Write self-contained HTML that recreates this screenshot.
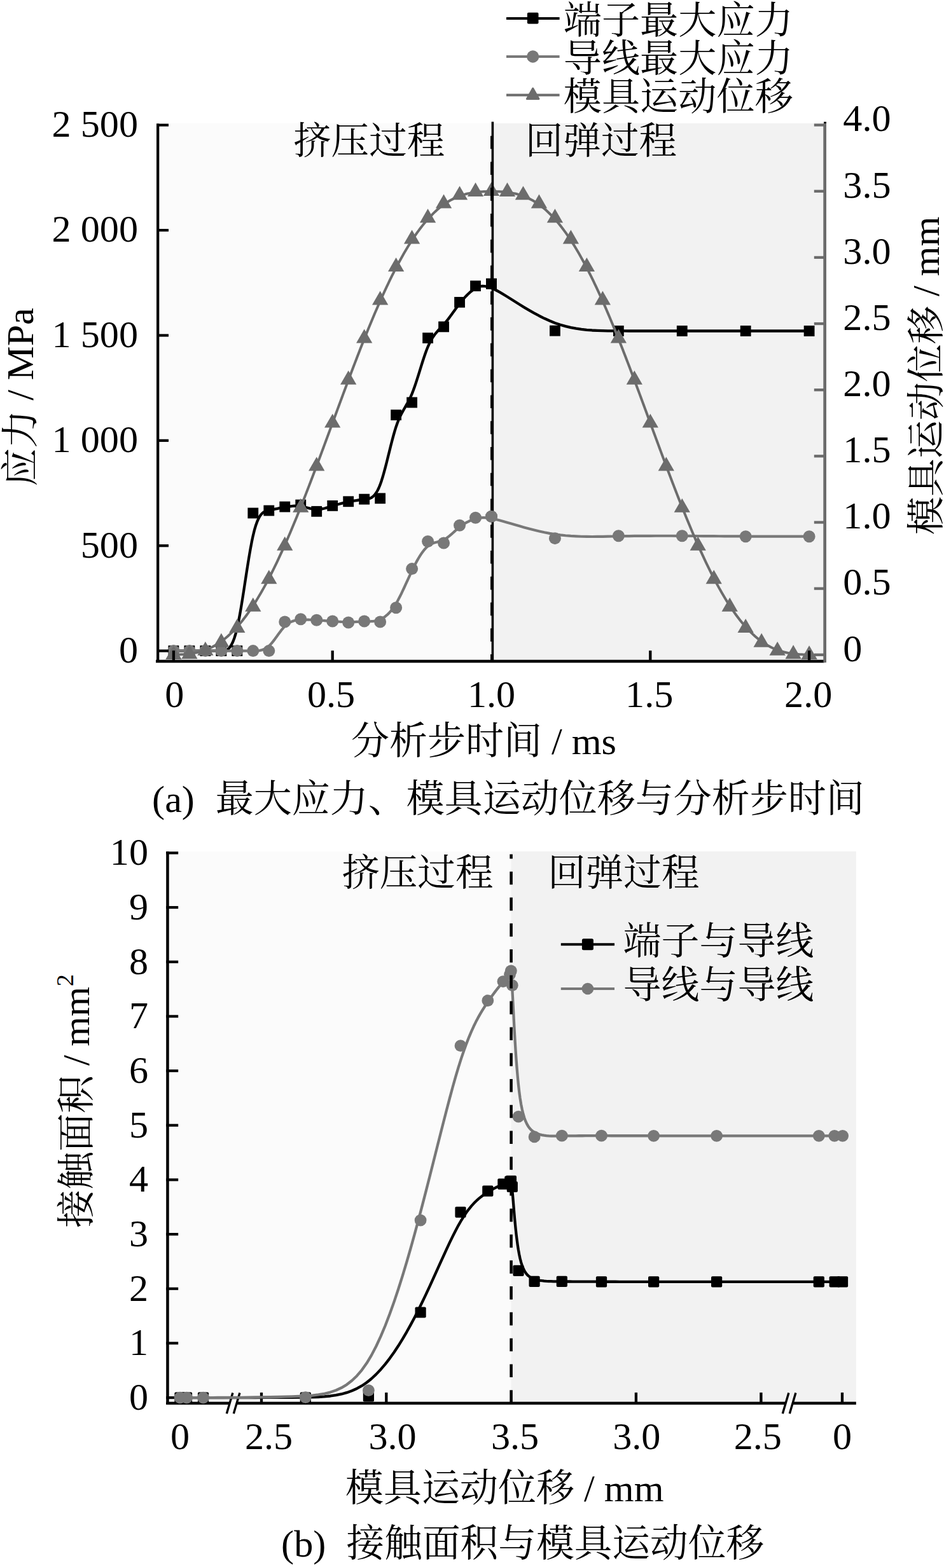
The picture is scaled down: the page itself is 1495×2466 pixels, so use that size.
<!DOCTYPE html>
<html><head><meta charset="utf-8"><title>chart</title>
<style>
html,body{margin:0;padding:0;background:#fff;}
svg{display:block;}
text{font-family:"Liberation Serif","Noto Serif CJK SC",serif;fill:#000;}
</style></head><body>
<svg width="1495" height="2466" viewBox="0 0 1495 2466">
<rect width="1495" height="2466" fill="#fff"/>
<rect x="248" y="193.8" width="526.3" height="846.2" fill="#fbfbfb"/>
<rect x="774.3" y="193.8" width="522.2" height="846.2" fill="#f2f2f2"/>
<path d="M272.9,1023.6 L272.9,1023.6 L272.92,1023.6 L272.97,1023.6 L273.05,1023.6 L273.2,1023.6 L273.42,1023.6 L273.73,1023.6 L274.13,1023.6 L274.66,1023.6 L275.31,1023.6 L276.11,1023.6 L277.06,1023.6 L278.19,1023.6 L279.47,1023.6 L280.9,1023.6 L282.46,1023.6 L284.13,1023.6 L285.91,1023.6 L287.77,1023.6 L289.71,1023.6 L291.7,1023.6 L293.74,1023.6 L295.8,1023.6 L297.88,1023.6 L299.96,1023.6 L302.04,1023.6 L304.12,1023.6 L306.21,1023.6 L308.29,1023.6 L310.37,1023.6 L312.45,1023.6 L314.53,1023.6 L316.62,1023.6 L318.7,1023.6 L320.78,1023.6 L322.86,1023.6 L324.94,1023.6 L327.02,1023.6 L329.11,1023.6 L331.19,1023.6 L333.27,1023.6 L335.35,1023.6 L337.43,1023.6 L339.51,1023.6 L341.59,1023.6 L343.68,1023.6 L345.76,1023.6 L347.84,1023.6 L349.92,1023.58 L352,1023.43 L354.08,1023.04 L356.17,1022.26 L358.25,1020.99 L360.33,1019.09 L362.41,1016.43 L364.49,1012.9 L366.57,1008.37 L368.66,1002.7 L370.74,995.79 L372.82,987.49 L374.9,977.75 L376.98,966.76 L379.06,954.76 L381.15,942 L383.23,928.73 L385.31,915.19 L387.39,901.65 L389.47,888.33 L391.55,875.5 L393.64,863.41 L395.72,852.29 L397.8,842.4 L399.88,833.92 L401.96,826.8 L404.05,820.91 L406.13,816.12 L408.21,812.31 L410.29,809.36 L412.37,807.14 L414.45,805.52 L416.53,804.39 L418.62,803.62 L420.7,803.08 L422.78,802.65 L424.86,802.23 L426.94,801.8 L429.02,801.36 L431.11,800.92 L433.19,800.47 L435.27,800.03 L437.35,799.58 L439.43,799.15 L441.51,798.72 L443.6,798.31 L445.68,797.91 L447.76,797.53 L449.84,797.16 L451.92,796.83 L454,796.53 L456.09,796.27 L458.17,796.05 L460.25,795.88 L462.33,795.77 L464.41,795.72 L466.5,795.73 L468.58,795.83 L470.66,796 L472.74,796.26 L474.82,796.6 L476.9,797.02 L478.98,797.5 L481.07,798.01 L483.15,798.53 L485.23,799.06 L487.31,799.56 L489.39,800.02 L491.48,800.43 L493.56,800.76 L495.64,800.99 L497.72,801.11 L499.8,801.1 L501.88,800.97 L503.97,800.73 L506.05,800.4 L508.13,799.98 L510.21,799.49 L512.29,798.94 L514.37,798.35 L516.46,797.72 L518.54,797.07 L520.62,796.42 L522.7,795.76 L524.78,795.12 L526.86,794.5 L528.95,793.89 L531.03,793.3 L533.11,792.73 L535.19,792.18 L537.27,791.64 L539.35,791.13 L541.44,790.63 L543.52,790.15 L545.6,789.69 L547.68,789.26 L549.76,788.84 L551.84,788.44 L553.93,788.07 L556.01,787.71 L558.09,787.37 L560.17,787.05 L562.25,786.75 L564.33,786.47 L566.41,786.2 L568.5,785.95 L570.58,785.72 L572.66,785.51 L574.74,785.3 L576.82,785.02 L578.9,784.62 L580.99,783.99 L583.07,783.08 L585.15,781.8 L587.23,780.08 L589.31,777.84 L591.39,775.01 L593.48,771.5 L595.56,767.24 L597.64,762.16 L599.72,756.21 L601.8,749.51 L603.88,742.17 L605.97,734.36 L608.05,726.2 L610.13,717.84 L612.21,709.42 L614.29,701.07 L616.37,692.94 L618.46,685.16 L620.54,677.88 L622.62,671.23 L624.7,665.31 L626.78,660.06 L628.86,655.36 L630.95,651.09 L633.03,647.15 L635.11,643.43 L637.19,639.81 L639.27,636.18 L641.36,632.44 L643.44,628.46 L645.52,624.13 L647.6,619.35 L649.68,614.04 L651.76,608.25 L653.85,602.09 L655.93,595.65 L658.01,589.02 L660.09,582.31 L662.17,575.6 L664.25,569 L666.33,562.59 L668.42,556.48 L670.5,550.76 L672.58,545.52 L674.66,540.84 L676.74,536.68 L678.82,532.98 L680.91,529.68 L682.99,526.72 L685.07,524.04 L687.15,521.58 L689.23,519.27 L691.31,517.07 L693.4,514.89 L695.48,512.7 L697.56,510.42 L699.64,508.01 L701.72,505.47 L703.8,502.83 L705.89,500.1 L707.97,497.31 L710.05,494.47 L712.13,491.6 L714.21,488.72 L716.29,485.85 L718.38,483.02 L720.46,480.23 L722.54,477.52 L724.62,474.89 L726.7,472.35 L728.78,469.92 L730.87,467.59 L732.95,465.38 L735.03,463.28 L737.11,461.3 L739.19,459.45 L741.27,457.73 L743.36,456.15 L745.44,454.71 L747.52,453.42 L749.61,452.29 L751.74,451.35 L753.96,450.62 L756.31,450.15 L758.83,449.95 L761.57,450.07 L764.57,450.53 L767.87,451.37 L771.52,452.63 L775.56,454.32 L780.04,456.49 L784.99,459.16 L790.45,462.35 L796.38,465.99 L802.75,469.99 L809.51,474.27 L816.61,478.73 L824.02,483.3 L831.69,487.88 L839.58,492.39 L847.64,496.73 L855.82,500.82 L864.1,504.58 L872.42,507.92 L880.75,510.76 L889.07,513.14 L897.4,515.09 L905.73,516.66 L914.05,517.88 L922.38,518.81 L930.71,519.48 L939.03,519.93 L947.36,520.22 L955.69,520.37 L964.01,520.44 L972.34,520.46 L980.67,520.47 L988.99,520.48 L997.32,520.49 L1005.65,520.5 L1013.97,520.5 L1022.3,520.51 L1030.63,520.51 L1038.95,520.51 L1047.28,520.51 L1055.61,520.51 L1063.93,520.51 L1072.26,520.51 L1080.59,520.51 L1088.91,520.51 L1097.24,520.51 L1105.57,520.51 L1113.89,520.51 L1122.22,520.51 L1130.55,520.51 L1138.87,520.51 L1147.2,520.51 L1155.53,520.51 L1163.85,520.51 L1172.18,520.51 L1180.5,520.51 L1188.76,520.51 L1196.9,520.51 L1204.87,520.51 L1212.61,520.51 L1220.06,520.51 L1227.16,520.51 L1233.86,520.51 L1240.09,520.51 L1245.81,520.51 L1250.95,520.51 L1255.45,520.51 L1259.27,520.51 L1262.46,520.51 L1265.07,520.51 L1267.17,520.51 L1268.79,520.51 L1270.02,520.51 L1270.9,520.51 L1271.48,520.51 L1271.84,520.51 L1272.02,520.51 L1272.09,520.51 L1272.1,520.51" fill="none" stroke="#000" stroke-width="4.3" stroke-linejoin="round"/>
<rect x="264.5" y="1015.2" width="16.8" height="16.8" fill="#000"/>
<rect x="289.48" y="1015.2" width="16.8" height="16.8" fill="#000"/>
<rect x="314.46" y="1015.2" width="16.8" height="16.8" fill="#000"/>
<rect x="339.44" y="1015.2" width="16.8" height="16.8" fill="#000"/>
<rect x="364.42" y="1015.2" width="16.8" height="16.8" fill="#000"/>
<rect x="389.4" y="798.55" width="16.8" height="16.8" fill="#000"/>
<rect x="414.38" y="794.58" width="16.8" height="16.8" fill="#000"/>
<rect x="439.36" y="788.63" width="16.8" height="16.8" fill="#000"/>
<rect x="464.34" y="785.65" width="16.8" height="16.8" fill="#000"/>
<rect x="489.32" y="795.91" width="16.8" height="16.8" fill="#000"/>
<rect x="514.3" y="786.98" width="16.8" height="16.8" fill="#000"/>
<rect x="539.28" y="780.36" width="16.8" height="16.8" fill="#000"/>
<rect x="564.26" y="776.72" width="16.8" height="16.8" fill="#000"/>
<rect x="589.24" y="775.4" width="16.8" height="16.8" fill="#000"/>
<rect x="614.22" y="644.25" width="16.8" height="16.8" fill="#000"/>
<rect x="639.2" y="624.57" width="16.8" height="16.8" fill="#000"/>
<rect x="664.18" y="523.16" width="16.8" height="16.8" fill="#000"/>
<rect x="689.16" y="505.5" width="16.8" height="16.8" fill="#000"/>
<rect x="714.14" y="466.97" width="16.8" height="16.8" fill="#000"/>
<rect x="739.12" y="441.33" width="16.8" height="16.8" fill="#000"/>
<rect x="764.1" y="437.86" width="16.8" height="16.8" fill="#000"/>
<rect x="864.02" y="511.78" width="16.8" height="16.8" fill="#000"/>
<rect x="963.94" y="512.11" width="16.8" height="16.8" fill="#000"/>
<rect x="1063.86" y="512.11" width="16.8" height="16.8" fill="#000"/>
<rect x="1163.78" y="512.11" width="16.8" height="16.8" fill="#000"/>
<rect x="1263.7" y="512.11" width="16.8" height="16.8" fill="#000"/>
<path d="M272.9,1023.6 L272.9,1023.6 L272.92,1023.6 L272.97,1023.6 L273.05,1023.6 L273.2,1023.6 L273.42,1023.6 L273.73,1023.6 L274.13,1023.6 L274.66,1023.6 L275.31,1023.6 L276.11,1023.6 L277.06,1023.6 L278.19,1023.6 L279.47,1023.6 L280.9,1023.6 L282.46,1023.6 L284.13,1023.6 L285.91,1023.6 L287.77,1023.6 L289.71,1023.6 L291.7,1023.6 L293.74,1023.6 L295.8,1023.6 L297.88,1023.6 L299.96,1023.6 L302.04,1023.6 L304.12,1023.6 L306.21,1023.6 L308.29,1023.6 L310.37,1023.6 L312.45,1023.6 L314.53,1023.6 L316.62,1023.6 L318.7,1023.6 L320.78,1023.6 L322.86,1023.6 L324.94,1023.6 L327.02,1023.6 L329.11,1023.6 L331.19,1023.6 L333.27,1023.6 L335.35,1023.6 L337.43,1023.6 L339.51,1023.6 L341.59,1023.6 L343.68,1023.6 L345.76,1023.6 L347.84,1023.6 L349.92,1023.6 L352,1023.6 L354.08,1023.6 L356.17,1023.6 L358.25,1023.6 L360.33,1023.6 L362.41,1023.6 L364.49,1023.6 L366.57,1023.6 L368.66,1023.6 L370.74,1023.6 L372.82,1023.6 L374.9,1023.6 L376.98,1023.6 L379.06,1023.6 L381.15,1023.6 L383.23,1023.6 L385.31,1023.6 L387.39,1023.6 L389.47,1023.6 L391.55,1023.6 L393.64,1023.6 L395.72,1023.6 L397.8,1023.6 L399.88,1023.6 L401.96,1023.56 L404.05,1023.48 L406.13,1023.32 L408.21,1023.05 L410.29,1022.65 L412.37,1022.09 L414.45,1021.35 L416.53,1020.39 L418.62,1019.2 L420.7,1017.74 L422.78,1015.99 L424.86,1013.94 L426.94,1011.62 L429.02,1009.09 L431.11,1006.39 L433.19,1003.57 L435.27,1000.69 L437.35,997.8 L439.43,994.94 L441.51,992.17 L443.6,989.53 L445.68,987.08 L447.76,984.87 L449.84,982.94 L451.92,981.27 L454,979.85 L456.09,978.66 L458.17,977.67 L460.25,976.87 L462.33,976.23 L464.41,975.73 L466.5,975.36 L468.58,975.08 L470.66,974.89 L472.74,974.76 L474.82,974.67 L476.9,974.61 L478.98,974.59 L481.07,974.6 L483.15,974.63 L485.23,974.69 L487.31,974.76 L489.39,974.86 L491.48,974.96 L493.56,975.08 L495.64,975.21 L497.72,975.34 L499.8,975.47 L501.88,975.6 L503.97,975.73 L506.05,975.87 L508.13,976.01 L510.21,976.15 L512.29,976.29 L514.37,976.43 L516.46,976.57 L518.54,976.72 L520.62,976.87 L522.7,977.02 L524.78,977.17 L526.86,977.32 L528.95,977.47 L531.03,977.62 L533.11,977.75 L535.19,977.88 L537.27,977.99 L539.35,978.09 L541.44,978.17 L543.52,978.23 L545.6,978.27 L547.68,978.29 L549.76,978.27 L551.84,978.24 L553.93,978.18 L556.01,978.11 L558.09,978.03 L560.17,977.93 L562.25,977.84 L564.33,977.75 L566.41,977.66 L568.5,977.58 L570.58,977.51 L572.66,977.46 L574.74,977.43 L576.82,977.4 L578.9,977.36 L580.99,977.3 L583.07,977.2 L585.15,977.04 L587.23,976.81 L589.31,976.5 L591.39,976.09 L593.48,975.56 L595.56,974.9 L597.64,974.1 L599.72,973.13 L601.8,972 L603.88,970.69 L605.97,969.18 L608.05,967.48 L610.13,965.58 L612.21,963.46 L614.29,961.11 L616.37,958.53 L618.46,955.71 L620.54,952.63 L622.62,949.29 L624.7,945.69 L626.78,941.85 L628.86,937.8 L630.95,933.58 L633.03,929.22 L635.11,924.76 L637.19,920.22 L639.27,915.65 L641.36,911.06 L643.44,906.51 L645.52,902.01 L647.6,897.6 L649.68,893.32 L651.76,889.17 L653.85,885.19 L655.93,881.38 L658.01,877.75 L660.09,874.33 L662.17,871.13 L664.25,868.17 L666.33,865.47 L668.42,863.03 L670.5,860.88 L672.58,859.02 L674.66,857.48 L676.74,856.21 L678.82,855.17 L680.91,854.32 L682.99,853.6 L685.07,852.99 L687.15,852.43 L689.23,851.88 L691.31,851.29 L693.4,850.63 L695.48,849.85 L697.56,848.9 L699.64,847.75 L701.72,846.42 L703.8,844.94 L705.89,843.32 L707.97,841.6 L710.05,839.81 L712.13,837.96 L714.21,836.09 L716.29,834.22 L718.38,832.38 L720.46,830.6 L722.54,828.89 L724.62,827.29 L726.7,825.8 L728.78,824.4 L730.87,823.11 L732.95,821.91 L735.03,820.8 L737.11,819.78 L739.19,818.85 L741.27,818 L743.36,817.23 L745.44,816.53 L747.52,815.91 L749.61,815.36 L751.74,814.9 L753.96,814.54 L756.31,814.29 L758.83,814.17 L761.57,814.2 L764.57,814.4 L767.87,814.76 L771.52,815.32 L775.56,816.09 L780.04,817.08 L784.99,818.31 L790.45,819.78 L796.38,821.46 L802.75,823.3 L809.51,825.27 L816.61,827.32 L824.02,829.4 L831.69,831.48 L839.58,833.51 L847.64,835.44 L855.82,837.24 L864.1,838.85 L872.42,840.25 L880.75,841.39 L889.07,842.28 L897.4,842.96 L905.73,843.45 L914.05,843.77 L922.38,843.94 L930.71,844 L939.03,843.96 L947.36,843.85 L955.69,843.69 L964.01,843.51 L972.34,843.34 L980.67,843.18 L988.99,843.06 L997.32,842.96 L1005.65,842.88 L1013.97,842.82 L1022.3,842.78 L1030.63,842.75 L1038.95,842.75 L1047.28,842.75 L1055.61,842.77 L1063.93,842.8 L1072.26,842.84 L1080.59,842.88 L1088.91,842.93 L1097.24,842.99 L1105.57,843.05 L1113.89,843.11 L1122.22,843.17 L1130.55,843.23 L1138.87,843.29 L1147.2,843.35 L1155.53,843.41 L1163.85,843.46 L1172.18,843.5 L1180.5,843.54 L1188.76,843.57 L1196.9,843.6 L1204.87,843.62 L1212.61,843.63 L1220.06,843.65 L1227.16,843.65 L1233.86,843.66 L1240.09,843.66 L1245.81,843.67 L1250.95,843.67 L1255.45,843.67 L1259.27,843.67 L1262.46,843.67 L1265.07,843.67 L1267.17,843.67 L1268.79,843.67 L1270.02,843.67 L1270.9,843.67 L1271.48,843.67 L1271.84,843.67 L1272.02,843.67 L1272.09,843.67 L1272.1,843.67" fill="none" stroke="#787878" stroke-width="4.2" stroke-linejoin="round"/>
<circle cx="272.9" cy="1023.6" r="9.5" fill="#787878"/>
<circle cx="297.88" cy="1023.6" r="9.5" fill="#787878"/>
<circle cx="322.86" cy="1023.6" r="9.5" fill="#787878"/>
<circle cx="347.84" cy="1023.6" r="9.5" fill="#787878"/>
<circle cx="372.82" cy="1023.6" r="9.5" fill="#787878"/>
<circle cx="397.8" cy="1023.6" r="9.5" fill="#787878"/>
<circle cx="422.78" cy="1023.6" r="9.5" fill="#787878"/>
<circle cx="447.76" cy="977.96" r="9.5" fill="#787878"/>
<circle cx="472.74" cy="973.82" r="9.5" fill="#787878"/>
<circle cx="497.72" cy="975.31" r="9.5" fill="#787878"/>
<circle cx="522.7" cy="976.96" r="9.5" fill="#787878"/>
<circle cx="547.68" cy="978.95" r="9.5" fill="#787878"/>
<circle cx="572.66" cy="976.96" r="9.5" fill="#787878"/>
<circle cx="597.64" cy="977.96" r="9.5" fill="#787878"/>
<circle cx="622.62" cy="955.79" r="9.5" fill="#787878"/>
<circle cx="647.6" cy="894.6" r="9.5" fill="#787878"/>
<circle cx="672.58" cy="851.41" r="9.5" fill="#787878"/>
<circle cx="697.56" cy="853.92" r="9.5" fill="#787878"/>
<circle cx="722.54" cy="826.3" r="9.5" fill="#787878"/>
<circle cx="747.52" cy="814.23" r="9.5" fill="#787878"/>
<circle cx="772.5" cy="812.24" r="9.5" fill="#787878"/>
<circle cx="872.42" cy="846.64" r="9.5" fill="#787878"/>
<circle cx="972.34" cy="842.67" r="9.5" fill="#787878"/>
<circle cx="1072.26" cy="842.67" r="9.5" fill="#787878"/>
<circle cx="1172.18" cy="843.67" r="9.5" fill="#787878"/>
<circle cx="1272.1" cy="843.67" r="9.5" fill="#787878"/>
<path d="M272.9,1029.8 L272.9,1029.8 L272.92,1029.8 L272.97,1029.8 L273.05,1029.79 L273.2,1029.79 L273.42,1029.78 L273.73,1029.77 L274.13,1029.76 L274.66,1029.74 L275.31,1029.72 L276.11,1029.69 L277.06,1029.66 L278.19,1029.62 L279.47,1029.57 L280.9,1029.52 L282.46,1029.45 L284.13,1029.37 L285.91,1029.27 L287.77,1029.15 L289.71,1029.01 L291.7,1028.84 L293.74,1028.66 L295.8,1028.44 L297.88,1028.2 L299.96,1027.92 L302.04,1027.61 L304.12,1027.27 L306.21,1026.88 L308.29,1026.46 L310.37,1026 L312.45,1025.5 L314.53,1024.95 L316.62,1024.35 L318.7,1023.71 L320.78,1023.01 L322.86,1022.27 L324.94,1021.46 L327.02,1020.61 L329.11,1019.7 L331.19,1018.73 L333.27,1017.7 L335.35,1016.62 L337.43,1015.47 L339.51,1014.26 L341.59,1012.99 L343.68,1011.65 L345.76,1010.25 L347.84,1008.79 L349.92,1007.25 L352,1005.65 L354.08,1003.99 L356.17,1002.25 L358.25,1000.44 L360.33,998.57 L362.41,996.62 L364.49,994.61 L366.57,992.52 L368.66,990.37 L370.74,988.14 L372.82,985.84 L374.9,983.47 L376.98,981.02 L379.06,978.5 L381.15,975.92 L383.23,973.26 L385.31,970.52 L387.39,967.72 L389.47,964.85 L391.55,961.9 L393.64,958.88 L395.72,955.79 L397.8,952.63 L399.88,949.4 L401.96,946.11 L404.05,942.74 L406.13,939.3 L408.21,935.79 L410.29,932.22 L412.37,928.58 L414.45,924.87 L416.53,921.09 L418.62,917.26 L420.7,913.35 L422.78,909.38 L424.86,905.35 L426.94,901.26 L429.02,897.11 L431.11,892.89 L433.19,888.62 L435.27,884.28 L437.35,879.89 L439.43,875.45 L441.51,870.94 L443.6,866.39 L445.68,861.78 L447.76,857.11 L449.84,852.4 L451.92,847.63 L454,842.82 L456.09,837.96 L458.17,833.05 L460.25,828.1 L462.33,823.1 L464.41,818.06 L466.5,812.98 L468.58,807.86 L470.66,802.7 L472.74,797.5 L474.82,792.27 L476.9,787 L478.98,781.7 L481.07,776.36 L483.15,771 L485.23,765.6 L487.31,760.18 L489.39,754.74 L491.48,749.27 L493.56,743.77 L495.64,738.26 L497.72,732.72 L499.8,727.17 L501.88,721.59 L503.97,716.01 L506.05,710.4 L508.13,704.79 L510.21,699.17 L512.29,693.53 L514.37,687.89 L516.46,682.24 L518.54,676.59 L520.62,670.93 L522.7,665.27 L524.78,659.62 L526.86,653.96 L528.95,648.31 L531.03,642.66 L533.11,637.02 L535.19,631.38 L537.27,625.76 L539.35,620.15 L541.44,614.54 L543.52,608.96 L545.6,603.38 L547.68,597.83 L549.76,592.29 L551.84,586.78 L553.93,581.28 L556.01,575.81 L558.09,570.37 L560.17,564.95 L562.25,559.55 L564.33,554.19 L566.42,548.85 L568.5,543.55 L570.58,538.28 L572.66,533.05 L574.74,527.85 L576.82,522.69 L578.9,517.57 L580.99,512.49 L583.07,507.45 L585.15,502.45 L587.23,497.5 L589.31,492.59 L591.4,487.73 L593.48,482.92 L595.56,478.15 L597.64,473.44 L599.72,468.77 L601.8,464.16 L603.88,459.61 L605.97,455.1 L608.05,450.66 L610.13,446.27 L612.21,441.93 L614.29,437.66 L616.37,433.44 L618.46,429.29 L620.54,425.2 L622.62,421.17 L624.7,417.2 L626.78,413.29 L628.87,409.46 L630.95,405.68 L633.03,401.97 L635.11,398.33 L637.19,394.76 L639.27,391.25 L641.36,387.81 L643.44,384.44 L645.52,381.15 L647.6,377.92 L649.68,374.76 L651.76,371.67 L653.85,368.65 L655.93,365.7 L658.01,362.83 L660.09,360.03 L662.17,357.29 L664.25,354.63 L666.34,352.05 L668.42,349.53 L670.5,347.08 L672.58,344.71 L674.66,342.41 L676.74,340.18 L678.83,338.03 L680.91,335.94 L682.99,333.93 L685.07,331.98 L687.15,330.11 L689.23,328.3 L691.32,326.56 L693.4,324.9 L695.48,323.3 L697.56,321.76 L699.64,320.3 L701.72,318.9 L703.81,317.56 L705.89,316.29 L707.97,315.08 L710.05,313.93 L712.13,312.85 L714.21,311.82 L716.3,310.85 L718.38,309.94 L720.46,309.09 L722.54,308.28 L724.62,307.54 L726.7,306.84 L728.78,306.2 L730.87,305.6 L732.95,305.05 L735.03,304.55 L737.11,304.09 L739.19,303.67 L741.27,303.28 L743.36,302.94 L745.44,302.63 L747.52,302.35 L749.6,302.11 L751.68,301.89 L753.76,301.71 L755.85,301.55 L757.93,301.41 L760.01,301.3 L762.09,301.21 L764.17,301.14 L766.25,301.09 L768.34,301.06 L770.42,301.04 L772.5,301.03 L774.58,301.04 L776.66,301.06 L778.75,301.09 L780.83,301.14 L782.91,301.21 L784.99,301.3 L787.07,301.41 L789.15,301.55 L791.24,301.71 L793.32,301.89 L795.4,302.11 L797.48,302.35 L799.56,302.63 L801.64,302.94 L803.73,303.28 L805.81,303.67 L807.89,304.09 L809.97,304.55 L812.05,305.05 L814.13,305.6 L816.22,306.2 L818.3,306.84 L820.38,307.54 L822.46,308.28 L824.54,309.09 L826.62,309.94 L828.71,310.85 L830.79,311.82 L832.87,312.85 L834.95,313.93 L837.03,315.08 L839.11,316.29 L841.2,317.56 L843.28,318.9 L845.36,320.3 L847.44,321.76 L849.52,323.3 L851.6,324.9 L853.69,326.56 L855.77,328.3 L857.85,330.11 L859.93,331.98 L862.01,333.93 L864.09,335.94 L866.18,338.03 L868.26,340.18 L870.34,342.41 L872.42,344.71 L874.5,347.08 L876.58,349.53 L878.67,352.05 L880.75,354.63 L882.83,357.29 L884.91,360.03 L886.99,362.83 L889.07,365.7 L891.16,368.65 L893.24,371.67 L895.32,374.76 L897.4,377.92 L899.48,381.15 L901.56,384.44 L903.64,387.81 L905.73,391.25 L907.81,394.76 L909.89,398.33 L911.97,401.97 L914.05,405.68 L916.13,409.46 L918.22,413.29 L920.3,417.2 L922.38,421.17 L924.46,425.2 L926.54,429.29 L928.62,433.44 L930.71,437.66 L932.79,441.93 L934.87,446.27 L936.95,450.66 L939.03,455.1 L941.12,459.61 L943.2,464.16 L945.28,468.77 L947.36,473.44 L949.44,478.15 L951.52,482.92 L953.61,487.73 L955.69,492.59 L957.77,497.5 L959.85,502.45 L961.93,507.45 L964.01,512.49 L966.1,517.57 L968.18,522.69 L970.26,527.85 L972.34,533.05 L974.42,538.28 L976.5,543.55 L978.59,548.85 L980.67,554.19 L982.75,559.55 L984.83,564.95 L986.91,570.37 L988.99,575.81 L991.07,581.28 L993.16,586.78 L995.24,592.29 L997.32,597.83 L999.4,603.38 L1001.48,608.96 L1003.56,614.54 L1005.65,620.15 L1007.73,625.76 L1009.81,631.38 L1011.89,637.02 L1013.97,642.66 L1016.06,648.31 L1018.14,653.96 L1020.22,659.62 L1022.3,665.27 L1024.38,670.93 L1026.46,676.59 L1028.55,682.24 L1030.63,687.89 L1032.71,693.53 L1034.79,699.17 L1036.87,704.79 L1038.95,710.4 L1041.04,716.01 L1043.12,721.59 L1045.2,727.17 L1047.28,732.72 L1049.36,738.26 L1051.44,743.77 L1053.53,749.27 L1055.61,754.74 L1057.69,760.18 L1059.77,765.6 L1061.85,771 L1063.93,776.36 L1066.02,781.7 L1068.1,787 L1070.18,792.27 L1072.26,797.5 L1074.34,802.7 L1076.42,807.86 L1078.51,812.98 L1080.59,818.06 L1082.67,823.1 L1084.75,828.1 L1086.83,833.05 L1088.91,837.96 L1091,842.82 L1093.08,847.63 L1095.16,852.4 L1097.24,857.11 L1099.32,861.78 L1101.4,866.39 L1103.49,870.94 L1105.57,875.45 L1107.65,879.89 L1109.73,884.28 L1111.81,888.62 L1113.89,892.89 L1115.98,897.11 L1118.06,901.26 L1120.14,905.35 L1122.22,909.38 L1124.3,913.35 L1126.38,917.26 L1128.47,921.09 L1130.55,924.87 L1132.63,928.58 L1134.71,932.22 L1136.79,935.79 L1138.87,939.3 L1140.95,942.74 L1143.04,946.11 L1145.12,949.4 L1147.2,952.63 L1149.28,955.79 L1151.36,958.88 L1153.45,961.9 L1155.53,964.85 L1157.61,967.72 L1159.69,970.52 L1161.77,973.26 L1163.85,975.92 L1165.93,978.5 L1168.02,981.02 L1170.1,983.47 L1172.18,985.84 L1174.26,988.14 L1176.34,990.37 L1178.43,992.52 L1180.51,994.61 L1182.59,996.62 L1184.67,998.57 L1186.75,1000.44 L1188.83,1002.25 L1190.92,1003.99 L1193,1005.65 L1195.08,1007.25 L1197.16,1008.79 L1199.24,1010.25 L1201.32,1011.65 L1203.41,1012.99 L1205.49,1014.26 L1207.57,1015.47 L1209.65,1016.62 L1211.73,1017.7 L1213.81,1018.73 L1215.89,1019.7 L1217.98,1020.61 L1220.06,1021.46 L1222.14,1022.27 L1224.22,1023.01 L1226.3,1023.71 L1228.38,1024.35 L1230.47,1024.95 L1232.55,1025.5 L1234.63,1026 L1236.71,1026.46 L1238.79,1026.88 L1240.88,1027.27 L1242.96,1027.61 L1245.04,1027.92 L1247.12,1028.2 L1249.2,1028.44 L1251.26,1028.66 L1253.3,1028.84 L1255.29,1029.01 L1257.23,1029.15 L1259.09,1029.27 L1260.87,1029.37 L1262.54,1029.45 L1264.1,1029.52 L1265.53,1029.57 L1266.81,1029.62 L1267.94,1029.66 L1268.89,1029.69 L1269.69,1029.72 L1270.34,1029.74 L1270.87,1029.76 L1271.27,1029.77 L1271.58,1029.78 L1271.8,1029.79 L1271.95,1029.79 L1272.03,1029.8 L1272.08,1029.8 L1272.1,1029.8 L1272.1,1029.8" fill="none" stroke="#6c6c6c" stroke-width="4.0" stroke-linejoin="round"/>
<path d="M272.9,1015.19 L285.55,1037.1 L260.25,1037.1Z" fill="#6c6c6c"/>
<path d="M297.88,1014.35 L310.53,1036.26 L285.23,1036.26Z" fill="#6c6c6c"/>
<path d="M322.86,1008.95 L335.51,1030.86 L310.21,1030.86Z" fill="#6c6c6c"/>
<path d="M347.84,995.79 L360.49,1017.7 L335.19,1017.7Z" fill="#6c6c6c"/>
<path d="M372.82,972.97 L385.47,994.88 L360.17,994.88Z" fill="#6c6c6c"/>
<path d="M397.8,939.72 L410.45,961.64 L385.15,961.64Z" fill="#6c6c6c"/>
<path d="M422.78,896.3 L435.43,918.21 L410.13,918.21Z" fill="#6c6c6c"/>
<path d="M447.76,843.74 L460.41,865.65 L435.11,865.65Z" fill="#6c6c6c"/>
<path d="M472.74,783.76 L485.39,805.67 L460.09,805.67Z" fill="#6c6c6c"/>
<path d="M497.72,718.56 L510.37,740.47 L485.07,740.47Z" fill="#6c6c6c"/>
<path d="M522.7,650.67 L535.35,672.58 L510.05,672.58Z" fill="#6c6c6c"/>
<path d="M547.68,582.77 L560.33,604.68 L535.03,604.68Z" fill="#6c6c6c"/>
<path d="M572.66,517.57 L585.31,539.48 L560.01,539.48Z" fill="#6c6c6c"/>
<path d="M597.64,457.59 L610.29,479.5 L584.99,479.5Z" fill="#6c6c6c"/>
<path d="M622.62,405.04 L635.27,426.95 L609.97,426.95Z" fill="#6c6c6c"/>
<path d="M647.6,361.61 L660.25,383.52 L634.95,383.52Z" fill="#6c6c6c"/>
<path d="M672.58,328.37 L685.23,350.28 L659.93,350.28Z" fill="#6c6c6c"/>
<path d="M697.56,305.54 L710.21,327.45 L684.91,327.45Z" fill="#6c6c6c"/>
<path d="M722.54,292.38 L735.19,314.29 L709.89,314.29Z" fill="#6c6c6c"/>
<path d="M747.52,286.99 L760.17,308.9 L734.87,308.9Z" fill="#6c6c6c"/>
<path d="M772.5,286.14 L785.15,308.05 L759.85,308.05Z" fill="#6c6c6c"/>
<path d="M797.48,286.99 L810.13,308.9 L784.83,308.9Z" fill="#6c6c6c"/>
<path d="M822.46,292.38 L835.11,314.29 L809.81,314.29Z" fill="#6c6c6c"/>
<path d="M847.44,305.54 L860.09,327.45 L834.79,327.45Z" fill="#6c6c6c"/>
<path d="M872.42,328.37 L885.07,350.28 L859.77,350.28Z" fill="#6c6c6c"/>
<path d="M897.4,361.61 L910.05,383.52 L884.75,383.52Z" fill="#6c6c6c"/>
<path d="M922.38,405.04 L935.03,426.95 L909.73,426.95Z" fill="#6c6c6c"/>
<path d="M947.36,457.59 L960.01,479.5 L934.71,479.5Z" fill="#6c6c6c"/>
<path d="M972.34,517.57 L984.99,539.48 L959.69,539.48Z" fill="#6c6c6c"/>
<path d="M997.32,582.77 L1009.97,604.68 L984.67,604.68Z" fill="#6c6c6c"/>
<path d="M1022.3,650.67 L1034.95,672.58 L1009.65,672.58Z" fill="#6c6c6c"/>
<path d="M1047.28,718.56 L1059.93,740.47 L1034.63,740.47Z" fill="#6c6c6c"/>
<path d="M1072.26,783.76 L1084.91,805.67 L1059.61,805.67Z" fill="#6c6c6c"/>
<path d="M1097.24,843.74 L1109.89,865.65 L1084.59,865.65Z" fill="#6c6c6c"/>
<path d="M1122.22,896.3 L1134.87,918.21 L1109.57,918.21Z" fill="#6c6c6c"/>
<path d="M1147.2,939.72 L1159.85,961.64 L1134.55,961.64Z" fill="#6c6c6c"/>
<path d="M1172.18,972.97 L1184.83,994.88 L1159.53,994.88Z" fill="#6c6c6c"/>
<path d="M1197.16,995.79 L1209.81,1017.7 L1184.51,1017.7Z" fill="#6c6c6c"/>
<path d="M1222.14,1008.95 L1234.79,1030.86 L1209.49,1030.86Z" fill="#6c6c6c"/>
<path d="M1247.12,1014.35 L1259.77,1036.26 L1234.47,1036.26Z" fill="#6c6c6c"/>
<path d="M1272.1,1015.19 L1284.75,1037.1 L1259.45,1037.1Z" fill="#6c6c6c"/>
<line x1="772.7" y1="196" x2="772.7" y2="1038" stroke="#000" stroke-width="3.4" stroke-dasharray="20.6 20.17" stroke-dashoffset="23.07"/>
<line x1="774.4" y1="191.6" x2="774.4" y2="1038" stroke="#000" stroke-width="3.6"/>
<rect x="764.1" y="437.86" width="16.8" height="16.8" fill="#000"/>
<circle cx="772.5" cy="812.24" r="9.5" fill="#787878"/>
<rect x="1295" y="191.6" width="4" height="3" fill="#000"/>
<rect x="246" y="194.5" width="4.3" height="847.5" fill="#000"/>
<rect x="245" y="1037.7" width="1051" height="4.6" fill="#000"/>
<rect x="1294.3" y="194.5" width="4.7" height="847.5" fill="#6b6b6b"/>
<rect x="246" y="1021.5" width="19" height="4.2" fill="#000"/>
<rect x="246" y="856.12" width="19" height="4.2" fill="#000"/>
<rect x="246" y="690.74" width="19" height="4.2" fill="#000"/>
<rect x="246" y="525.36" width="19" height="4.2" fill="#000"/>
<rect x="246" y="359.98" width="19" height="4.2" fill="#000"/>
<rect x="246" y="194.6" width="19" height="4.2" fill="#000"/>
<rect x="1279.8" y="1027.65" width="16" height="4.3" fill="#6b6b6b"/>
<rect x="1279.8" y="923.5" width="16" height="4.3" fill="#6b6b6b"/>
<rect x="1279.8" y="819.35" width="16" height="4.3" fill="#6b6b6b"/>
<rect x="1279.8" y="715.2" width="16" height="4.3" fill="#6b6b6b"/>
<rect x="1279.8" y="611.05" width="16" height="4.3" fill="#6b6b6b"/>
<rect x="1279.8" y="506.9" width="16" height="4.3" fill="#6b6b6b"/>
<rect x="1279.8" y="402.75" width="16" height="4.3" fill="#6b6b6b"/>
<rect x="1279.8" y="298.6" width="16" height="4.3" fill="#6b6b6b"/>
<rect x="1279.8" y="194.45" width="16" height="4.3" fill="#6b6b6b"/>
<rect x="270.75" y="1023.2" width="4.3" height="16" fill="#000"/>
<rect x="520.55" y="1023.2" width="4.3" height="16" fill="#000"/>
<rect x="1020.15" y="1023.2" width="4.3" height="16" fill="#000"/>
<rect x="1269.95" y="1023.2" width="4.3" height="16" fill="#000"/>
<g class="t">
<text x="217" y="1042" font-size="60.2" text-anchor="end" xml:space="preserve">0</text>
<text x="217" y="876.62" font-size="60.2" text-anchor="end" xml:space="preserve">500</text>
<text x="217" y="711.24" font-size="60.2" text-anchor="end" xml:space="preserve">1 000</text>
<text x="217" y="545.86" font-size="60.2" text-anchor="end" xml:space="preserve">1 500</text>
<text x="217" y="380.48" font-size="60.2" text-anchor="end" xml:space="preserve">2 000</text>
<text x="217" y="215.1" font-size="60.2" text-anchor="end" xml:space="preserve">2 500</text>
<text x="1325.3" y="1039.6" font-size="60.2" xml:space="preserve">0</text>
<text x="1325.3" y="935.45" font-size="60.2" xml:space="preserve">0.5</text>
<text x="1325.3" y="831.3" font-size="60.2" xml:space="preserve">1.0</text>
<text x="1325.3" y="727.15" font-size="60.2" xml:space="preserve">1.5</text>
<text x="1325.3" y="623" font-size="60.2" xml:space="preserve">2.0</text>
<text x="1325.3" y="518.85" font-size="60.2" xml:space="preserve">2.5</text>
<text x="1325.3" y="414.7" font-size="60.2" xml:space="preserve">3.0</text>
<text x="1325.3" y="310.55" font-size="60.2" xml:space="preserve">3.5</text>
<text x="1325.3" y="206.4" font-size="60.2" xml:space="preserve">4.0</text>
<text x="274.2" y="1111.8" font-size="60.2" text-anchor="middle">0</text>
<text x="520.5" y="1111.8" font-size="60.2" text-anchor="middle">0.5</text>
<text x="772.5" y="1111.8" font-size="60.2" text-anchor="middle">1.0</text>
<text x="1020.7" y="1111.8" font-size="60.2" text-anchor="middle">1.5</text>
<text x="1270.7" y="1111.8" font-size="60.2" text-anchor="middle">2.0</text>
</g>
<line x1="796" y1="28.9" x2="879.6" y2="28.9" stroke="#000" stroke-width="4"/>
<line x1="796" y1="89" x2="879.6" y2="89" stroke="#787878" stroke-width="4"/>
<line x1="796" y1="149.4" x2="879.6" y2="149.4" stroke="#6c6c6c" stroke-width="4"/>
<rect x="828.85" y="19.75" width="17.7" height="17.7" rx="2" fill="#000"/>
<circle cx="837.7" cy="89" r="9.65" fill="#787878"/>
<path d="M837.7,139 L847,155.4 L828.4,155.4Z" fill="#6c6c6c" stroke="#6c6c6c" stroke-width="3" stroke-linejoin="round"/>
<g aria-label="端子最大应力">
<text x="885.7" y="52.5" font-size="60.2">端子最大应力</text>
</g>
<g aria-label="导线最大应力">
<text x="885.7" y="112.9" font-size="60.2">导线最大应力</text>
</g>
<g aria-label="模具运动位移">
<text x="885.7" y="173.3" font-size="60.2">模具运动位移</text>
</g>
<g aria-label="挤压过程">
<text x="461" y="242" font-size="59.6">挤压过程</text>
</g>
<g aria-label="回弹过程">
<text x="825.8" y="242" font-size="59.6">回弹过程</text>
</g>
<g class="t">
<g aria-label="分析步时间 / ms">
<text x="551.96" y="1185.5" font-size="60">分析步时间</text>
<text x="851.96" y="1185.5" font-size="60.2" xml:space="preserve"> / ms</text>
</g>
<text x="239.1" y="1276.5" font-size="60.2" xml:space="preserve">(a)</text>
<g aria-label="最大应力、模具运动位移与分析步时间">
<text x="338.8" y="1276.5" font-size="60">最大应力、模具运动位移与分析步时间</text>
</g>
<g transform="translate(51.6,764.7) rotate(-90)"><g aria-label="应力 / MPa">
<text x="0" y="1.2" font-size="60">应力</text>
<text x="120" y="0" font-size="60.2" xml:space="preserve"> / MPa</text>
</g></g>
<g transform="translate(1476.1,841) rotate(-90)"><g aria-label="模具运动位移 / mm">
<text x="0" y="1.2" font-size="60">模具运动位移</text>
<text x="360" y="0" font-size="60.2" xml:space="preserve"> / mm</text>
</g></g>
</g>
<rect x="263" y="1339" width="540.6" height="868" fill="#fbfbfb"/>
<rect x="803.6" y="1339" width="542.1999999999999" height="868" fill="#f2f2f2"/>
<rect x="261.2" y="1339.2" width="4.5" height="869.8" fill="#000"/>
<rect x="261.2" y="2204.6" width="1084.6" height="4.5" fill="#000"/>
<rect x="261.2" y="2196" width="19" height="4.2" fill="#000"/>
<rect x="261.2" y="2110.33" width="19" height="4.2" fill="#000"/>
<rect x="261.2" y="2024.66" width="19" height="4.2" fill="#000"/>
<rect x="261.2" y="1938.99" width="19" height="4.2" fill="#000"/>
<rect x="261.2" y="1853.32" width="19" height="4.2" fill="#000"/>
<rect x="261.2" y="1767.65" width="19" height="4.2" fill="#000"/>
<rect x="261.2" y="1681.98" width="19" height="4.2" fill="#000"/>
<rect x="261.2" y="1596.31" width="19" height="4.2" fill="#000"/>
<rect x="261.2" y="1510.64" width="19" height="4.2" fill="#000"/>
<rect x="261.2" y="1424.97" width="19" height="4.2" fill="#000"/>
<rect x="261.2" y="1339.3" width="19" height="4.2" fill="#000"/>
<rect x="408.85" y="2190.1" width="4.3" height="16" fill="#000"/>
<rect x="605.15" y="2190.1" width="4.3" height="16" fill="#000"/>
<rect x="997.75" y="2190.1" width="4.3" height="16" fill="#000"/>
<rect x="1194.25" y="2190.1" width="4.3" height="16" fill="#000"/>
<rect x="1321.85" y="2190.1" width="4.3" height="16" fill="#000"/>
<path d="M362.1,2203 L373.6,2203 L371.6,2211 L360.1,2211Z" fill="#fff"/><line x1="365.90000000000003" y1="2190.6" x2="356.3" y2="2223.2" stroke="#000" stroke-width="3.4"/><line x1="376.90000000000003" y1="2190.6" x2="367.3" y2="2223.2" stroke="#000" stroke-width="3.4"/>
<path d="M1236.1,2203 L1247.6,2203 L1245.6,2211 L1234.1,2211Z" fill="#fff"/><line x1="1239.8999999999999" y1="2190.6" x2="1230.3" y2="2223.2" stroke="#000" stroke-width="3.4"/><line x1="1250.8999999999999" y1="2190.6" x2="1241.3" y2="2223.2" stroke="#000" stroke-width="3.4"/>
<path d="M283,2198.1 L283,2198.1 L283.01,2198.1 L283.03,2198.1 L283.06,2198.1 L283.13,2198.1 L283.22,2198.1 L283.35,2198.1 L283.52,2198.1 L283.74,2198.1 L284.01,2198.1 L284.35,2198.1 L284.75,2198.1 L285.22,2198.1 L285.77,2198.1 L286.4,2198.1 L287.11,2198.1 L287.91,2198.1 L288.79,2198.1 L289.76,2198.1 L290.83,2198.1 L291.99,2198.1 L293.25,2198.1 L294.62,2198.1 L296.08,2198.1 L297.67,2198.1 L299.43,2198.1 L301.44,2198.1 L303.76,2198.1 L306.47,2198.1 L309.63,2198.1 L313.31,2198.1 L317.59,2198.1 L322.52,2198.09 L328.18,2198.09 L334.64,2198.09 L341.97,2198.08 L350.2,2198.08 L359.25,2198.07 L369.02,2198.06 L379.38,2198.05 L390.22,2198.03 L401.42,2198.01 L412.88,2197.97 L424.49,2197.93 L436.11,2197.88 L447.65,2197.82 L458.99,2197.75 L470.02,2197.67 L480.64,2197.56 L490.85,2197.36 L500.69,2197 L510.18,2196.4 L519.34,2195.49 L528.2,2194.2 L536.79,2192.46 L545.13,2190.18 L553.24,2187.29 L561.16,2183.73 L568.9,2179.41 L576.5,2174.27 L583.97,2168.24 L591.32,2161.38 L598.55,2153.73 L605.66,2145.36 L612.64,2136.34 L619.5,2126.71 L626.23,2116.54 L632.83,2105.89 L639.31,2094.82 L645.66,2083.39 L651.88,2071.67 L657.97,2059.7 L663.93,2047.56 L669.75,2035.32 L675.45,2023.09 L681.01,2010.93 L686.44,1998.94 L691.74,1987.21 L696.9,1975.82 L701.92,1964.86 L706.81,1954.42 L711.56,1944.58 L716.18,1935.43 L720.65,1927.07 L724.98,1919.54 L729.18,1912.82 L733.24,1906.84 L737.16,1901.56 L740.94,1896.9 L744.59,1892.81 L748.11,1889.23 L751.49,1886.09 L754.73,1883.35 L757.85,1880.94 L760.83,1878.81 L763.68,1876.88 L766.41,1875.12 L769,1873.5 L771.48,1872.02 L773.83,1870.67 L776.06,1869.43 L778.19,1868.31 L780.2,1867.28 L782.1,1866.35 L783.9,1865.5 L785.6,1864.73 L787.2,1864.02 L788.7,1863.37 L790.11,1862.77 L791.44,1862.21 L792.67,1861.7 L793.82,1861.23 L794.89,1860.8 L795.88,1860.41 L796.79,1860.06 L797.63,1859.73 L798.39,1859.44 L799.08,1859.18 L799.7,1858.94 L800.25,1858.73 L800.74,1858.55 L801.17,1858.38 L801.55,1858.25 L801.88,1858.15 L802.16,1858.09 L802.41,1858.07 L802.63,1858.1 L802.82,1858.18 L803,1858.3 L803.16,1858.49 L803.3,1858.74 L803.45,1859.05 L803.6,1859.44 L803.75,1859.97 L803.92,1860.69 L804.1,1861.68 L804.3,1863 L804.52,1864.71 L804.77,1866.89 L805.05,1869.59 L805.37,1872.89 L805.74,1876.84 L806.14,1881.51 L806.6,1886.97 L807.11,1893.25 L807.68,1900.24 L808.31,1907.81 L809.01,1915.82 L809.79,1924.14 L810.63,1932.61 L811.56,1941.12 L812.58,1949.52 L813.68,1957.67 L814.87,1965.43 L816.17,1972.67 L817.57,1979.25 L819.07,1985.06 L820.68,1990.14 L822.4,1994.53 L824.24,1998.29 L826.19,2001.48 L828.25,2004.15 L830.43,2006.37 L832.72,2008.18 L835.14,2009.66 L837.67,2010.84 L840.33,2011.79 L843.12,2012.57 L846.03,2013.22 L849.06,2013.76 L852.22,2014.21 L855.51,2014.56 L858.93,2014.84 L862.47,2015.05 L866.15,2015.21 L869.95,2015.31 L873.88,2015.38 L877.95,2015.43 L882.14,2015.45 L886.47,2015.47 L890.92,2015.48 L895.51,2015.5 L900.24,2015.53 L905.09,2015.55 L910.09,2015.58 L915.21,2015.6 L920.47,2015.62 L925.87,2015.65 L931.4,2015.67 L937.07,2015.7 L942.87,2015.72 L948.82,2015.73 L954.9,2015.75 L961.12,2015.76 L967.47,2015.77 L973.95,2015.78 L980.57,2015.79 L987.32,2015.79 L994.19,2015.8 L1001.19,2015.8 L1008.32,2015.8 L1015.56,2015.8 L1022.93,2015.8 L1030.42,2015.8 L1038.03,2015.8 L1045.78,2015.8 L1053.7,2015.8 L1061.82,2015.8 L1070.15,2015.8 L1078.74,2015.8 L1087.59,2015.8 L1096.75,2015.8 L1106.23,2015.8 L1116.06,2015.8 L1126.27,2015.8 L1136.88,2015.8 L1147.9,2015.8 L1159.23,2015.8 L1170.76,2015.8 L1182.38,2015.8 L1193.96,2015.8 L1205.41,2015.8 L1216.59,2015.8 L1227.41,2015.8 L1237.74,2015.8 L1247.47,2015.8 L1256.48,2015.8 L1264.67,2015.8 L1271.94,2015.8 L1278.34,2015.8 L1283.94,2015.8 L1288.82,2015.8 L1293.03,2015.8 L1296.66,2015.8 L1299.77,2015.8 L1302.44,2015.8 L1304.74,2015.8 L1306.73,2015.8 L1308.49,2015.8 L1310.1,2015.8 L1311.61,2015.8 L1313.03,2015.8 L1314.36,2015.8 L1315.6,2015.8 L1316.76,2015.8 L1317.83,2015.8 L1318.82,2015.8 L1319.71,2015.8 L1320.53,2015.8 L1321.25,2015.8 L1321.89,2015.8 L1322.45,2015.8 L1322.92,2015.8 L1323.31,2015.8 L1323.64,2015.8 L1323.89,2015.8 L1324.09,2015.8 L1324.24,2015.8 L1324.35,2015.8 L1324.42,2015.8 L1324.47,2015.8 L1324.49,2015.8 L1324.5,2015.8 L1324.5,2015.8" fill="none" stroke="#000" stroke-width="4.3" stroke-linejoin="round"/>
<rect x="274.4" y="2189.5" width="17.2" height="17.2" rx="2" fill="#000"/>
<rect x="284.9" y="2189.5" width="17.2" height="17.2" rx="2" fill="#000"/>
<rect x="310.9" y="2189.5" width="17.2" height="17.2" rx="2" fill="#000"/>
<rect x="471.7" y="2189.4" width="17.2" height="17.2" rx="2" fill="#000"/>
<rect x="570.8" y="2187.3" width="17.2" height="17.2" rx="2" fill="#000"/>
<rect x="652.5" y="2055.4" width="17.2" height="17.2" rx="2" fill="#000"/>
<rect x="715.4" y="1897.7" width="17.2" height="17.2" rx="2" fill="#000"/>
<rect x="758.2" y="1864.6" width="17.2" height="17.2" rx="2" fill="#000"/>
<rect x="782.3" y="1853.6" width="17.2" height="17.2" rx="2" fill="#000"/>
<rect x="793.2" y="1849.6" width="17.2" height="17.2" rx="2" fill="#000"/>
<rect x="794.8" y="1848.8" width="17.2" height="17.2" rx="2" fill="#000"/>
<rect x="796.7" y="1857.9" width="17.2" height="17.2" rx="2" fill="#000"/>
<rect x="806.4" y="1989.8" width="17.2" height="17.2" rx="2" fill="#000"/>
<rect x="831.5" y="2006.8" width="17.2" height="17.2" rx="2" fill="#000"/>
<rect x="874.7" y="2006.8" width="17.2" height="17.2" rx="2" fill="#000"/>
<rect x="936.9" y="2007.2" width="17.2" height="17.2" rx="2" fill="#000"/>
<rect x="1019" y="2007.2" width="17.2" height="17.2" rx="2" fill="#000"/>
<rect x="1118" y="2007.2" width="17.2" height="17.2" rx="2" fill="#000"/>
<rect x="1278.7" y="2007.2" width="17.2" height="17.2" rx="2" fill="#000"/>
<rect x="1303.6" y="2007.2" width="17.2" height="17.2" rx="2" fill="#000"/>
<rect x="1315.9" y="2007.2" width="17.2" height="17.2" rx="2" fill="#000"/>
<path d="M283,2198.1 L283,2198.1 L283.01,2198.1 L283.03,2198.1 L283.06,2198.1 L283.13,2198.1 L283.22,2198.1 L283.35,2198.1 L283.52,2198.1 L283.74,2198.1 L284.01,2198.1 L284.35,2198.1 L284.75,2198.1 L285.22,2198.1 L285.77,2198.1 L286.4,2198.1 L287.11,2198.1 L287.91,2198.1 L288.79,2198.1 L289.76,2198.1 L290.83,2198.1 L291.99,2198.1 L293.25,2198.1 L294.62,2198.1 L296.08,2198.1 L297.67,2198.1 L299.43,2198.1 L301.44,2198.1 L303.76,2198.1 L306.47,2198.09 L309.63,2198.09 L313.31,2198.08 L317.59,2198.08 L322.52,2198.06 L328.18,2198.05 L334.64,2198.04 L341.97,2198.02 L350.2,2197.99 L359.25,2197.96 L369.02,2197.91 L379.38,2197.84 L390.22,2197.75 L401.42,2197.62 L412.88,2197.45 L424.49,2197.25 L436.11,2196.99 L447.65,2196.67 L458.99,2196.29 L470.02,2195.85 L480.64,2195.31 L490.85,2194.56 L500.69,2193.44 L510.18,2191.83 L519.34,2189.58 L528.2,2186.54 L536.79,2182.57 L545.13,2177.54 L553.24,2171.29 L561.16,2163.69 L568.9,2154.59 L576.5,2143.85 L583.97,2131.38 L591.32,2117.27 L598.55,2101.67 L605.66,2084.72 L612.64,2066.57 L619.5,2047.36 L626.23,2027.24 L632.83,2006.34 L639.31,1984.82 L645.66,1962.82 L651.88,1940.48 L657.97,1917.95 L663.93,1895.37 L669.75,1872.86 L675.45,1850.54 L681.01,1828.55 L686.44,1806.99 L691.74,1785.99 L696.9,1765.68 L701.92,1746.17 L706.81,1727.58 L711.56,1710.05 L716.18,1693.68 L720.65,1678.6 L724.98,1664.9 L729.18,1652.52 L733.24,1641.36 L737.16,1631.33 L740.94,1622.34 L744.59,1614.29 L748.11,1607.09 L751.49,1600.64 L754.73,1594.86 L757.85,1589.64 L760.83,1584.89 L763.68,1580.52 L766.41,1576.44 L769,1572.64 L771.48,1569.1 L773.83,1565.8 L776.06,1562.74 L778.18,1559.9 L780.19,1557.27 L782.08,1554.83 L783.88,1552.57 L785.57,1550.49 L787.16,1548.56 L788.65,1546.78 L790.05,1545.14 L791.36,1543.61 L792.58,1542.21 L793.71,1540.91 L794.76,1539.71 L795.74,1538.61 L796.63,1537.59 L797.45,1536.65 L798.2,1535.77 L798.87,1534.96 L799.49,1534.2 L800.03,1533.48 L800.52,1532.81 L800.95,1532.18 L801.33,1531.62 L801.67,1531.14 L801.96,1530.74 L802.22,1530.45 L802.45,1530.28 L802.66,1530.24 L802.84,1530.34 L803.01,1530.59 L803.17,1531.02 L803.33,1531.63 L803.49,1532.46 L803.66,1533.56 L803.83,1535.05 L804.02,1537 L804.23,1539.51 L804.46,1542.67 L804.72,1546.56 L805.01,1551.29 L805.34,1556.92 L805.71,1563.57 L806.12,1571.31 L806.58,1580.23 L807.1,1590.39 L807.67,1601.61 L808.31,1613.69 L809.01,1626.43 L809.78,1639.62 L810.63,1653.04 L811.56,1666.49 L812.57,1679.77 L813.68,1692.67 L814.87,1704.98 L816.17,1716.48 L817.57,1726.98 L819.07,1736.32 L820.68,1744.52 L822.4,1751.68 L824.24,1757.87 L826.19,1763.17 L828.25,1767.66 L830.43,1771.44 L832.72,1774.57 L835.14,1777.14 L837.67,1779.23 L840.33,1780.93 L843.12,1782.32 L846.03,1783.46 L849.06,1784.39 L852.22,1785.12 L855.51,1785.69 L858.93,1786.1 L862.47,1786.39 L866.15,1786.56 L869.95,1786.64 L873.88,1786.66 L877.95,1786.62 L882.14,1786.56 L886.47,1786.48 L890.92,1786.42 L895.51,1786.36 L900.24,1786.32 L905.09,1786.28 L910.09,1786.26 L915.21,1786.24 L920.47,1786.22 L925.87,1786.22 L931.4,1786.21 L937.07,1786.21 L942.87,1786.21 L948.82,1786.22 L954.9,1786.22 L961.12,1786.23 L967.47,1786.23 L973.95,1786.24 L980.57,1786.24 L987.32,1786.25 L994.19,1786.26 L1001.19,1786.26 L1008.32,1786.27 L1015.56,1786.27 L1022.93,1786.28 L1030.42,1786.28 L1038.03,1786.29 L1045.78,1786.29 L1053.7,1786.29 L1061.82,1786.3 L1070.15,1786.3 L1078.74,1786.3 L1087.59,1786.3 L1096.75,1786.3 L1106.23,1786.3 L1116.06,1786.3 L1126.27,1786.3 L1136.88,1786.3 L1147.9,1786.3 L1159.23,1786.3 L1170.76,1786.3 L1182.37,1786.3 L1193.96,1786.3 L1205.4,1786.3 L1216.58,1786.3 L1227.39,1786.3 L1237.71,1786.3 L1247.43,1786.3 L1256.43,1786.3 L1264.6,1786.3 L1271.86,1786.3 L1278.24,1786.3 L1283.82,1786.3 L1288.67,1786.3 L1292.86,1786.3 L1296.47,1786.3 L1299.56,1786.3 L1302.21,1786.3 L1304.5,1786.3 L1306.48,1786.3 L1308.24,1786.3 L1309.85,1786.3 L1311.36,1786.3 L1312.79,1786.3 L1314.14,1786.3 L1315.41,1786.3 L1316.59,1786.3 L1317.69,1786.3 L1318.7,1786.3 L1319.63,1786.3 L1320.47,1786.3 L1321.22,1786.3 L1321.89,1786.3 L1322.47,1786.3 L1322.96,1786.3 L1323.37,1786.3 L1323.7,1786.3 L1323.97,1786.3 L1324.18,1786.3 L1324.33,1786.3 L1324.45,1786.3 L1324.52,1786.3 L1324.57,1786.3 L1324.59,1786.3 L1324.6,1786.3 L1324.6,1786.3" fill="none" stroke="#787878" stroke-width="4.3" stroke-linejoin="round"/>
<circle cx="283" cy="2198.1" r="9.4" fill="#787878"/>
<circle cx="293.5" cy="2198.1" r="9.4" fill="#787878"/>
<circle cx="319.5" cy="2198.1" r="9.4" fill="#787878"/>
<circle cx="480.3" cy="2197.6" r="9.4" fill="#787878"/>
<circle cx="579.4" cy="2186.6" r="9.4" fill="#787878"/>
<circle cx="661.1" cy="1919.1" r="9.4" fill="#787878"/>
<circle cx="724" cy="1644.7" r="9.4" fill="#787878"/>
<circle cx="766.8" cy="1573.7" r="9.4" fill="#787878"/>
<circle cx="790.9" cy="1543.6" r="9.4" fill="#787878"/>
<circle cx="801.5" cy="1532.6" r="9.4" fill="#787878"/>
<circle cx="803.3" cy="1526.9" r="9.4" fill="#787878"/>
<circle cx="805.3" cy="1549.6" r="9.4" fill="#787878"/>
<circle cx="815" cy="1756.1" r="9.4" fill="#787878"/>
<circle cx="840.1" cy="1787.9" r="9.4" fill="#787878"/>
<circle cx="883.3" cy="1786.2" r="9.4" fill="#787878"/>
<circle cx="945.5" cy="1786.2" r="9.4" fill="#787878"/>
<circle cx="1027.6" cy="1786.3" r="9.4" fill="#787878"/>
<circle cx="1126.6" cy="1786.3" r="9.4" fill="#787878"/>
<circle cx="1287.3" cy="1786.3" r="9.4" fill="#787878"/>
<circle cx="1311.8" cy="1786.3" r="9.4" fill="#787878"/>
<circle cx="1324.6" cy="1786.3" r="9.4" fill="#787878"/>
<line x1="803.6" y1="1343.6" x2="803.6" y2="2205" stroke="#000" stroke-width="4.5" stroke-dasharray="20.6 20.17" stroke-dashoffset="13.60"/>
<g class="t">
<text x="233" y="2216.9" font-size="60.2" text-anchor="end">0</text>
<text x="233" y="2131.23" font-size="60.2" text-anchor="end">1</text>
<text x="233" y="2045.56" font-size="60.2" text-anchor="end">2</text>
<text x="233" y="1959.89" font-size="60.2" text-anchor="end">3</text>
<text x="233" y="1874.22" font-size="60.2" text-anchor="end">4</text>
<text x="233" y="1788.55" font-size="60.2" text-anchor="end">5</text>
<text x="233" y="1702.88" font-size="60.2" text-anchor="end">6</text>
<text x="233" y="1617.21" font-size="60.2" text-anchor="end">7</text>
<text x="233" y="1531.54" font-size="60.2" text-anchor="end">8</text>
<text x="233" y="1445.87" font-size="60.2" text-anchor="end">9</text>
<text x="233" y="1360.2" font-size="60.2" text-anchor="end">10</text>
<text x="283" y="2279" font-size="60.2" text-anchor="middle">0</text>
<text x="422.5" y="2279" font-size="60.2" text-anchor="middle">2.5</text>
<text x="617" y="2279" font-size="60.2" text-anchor="middle">3.0</text>
<text x="809.5" y="2279" font-size="60.2" text-anchor="middle">3.5</text>
<text x="1000.8" y="2279" font-size="60.2" text-anchor="middle">3.0</text>
<text x="1191.3" y="2279" font-size="60.2" text-anchor="middle">2.5</text>
<text x="1324" y="2279" font-size="60.2" text-anchor="middle">0</text>
</g>
<line x1="881.8" y1="1485.3" x2="966" y2="1485.3" stroke="#000" stroke-width="4"/>
<line x1="881.8" y1="1555" x2="966" y2="1555" stroke="#787878" stroke-width="4"/>
<rect x="914.9" y="1476.3" width="18" height="18" rx="2.5" fill="#000"/>
<circle cx="923.9" cy="1555" r="9.3" fill="#787878"/>
<g aria-label="端子与导线">
<text x="979.5" y="1501.2" font-size="60">端子与导线</text>
</g>
<g aria-label="导线与导线">
<text x="979.5" y="1570" font-size="60">导线与导线</text>
</g>
<g aria-label="挤压过程">
<text x="537.2" y="1392.5" font-size="59.6">挤压过程</text>
</g>
<g aria-label="回弹过程">
<text x="861.2" y="1392.5" font-size="59.6">回弹过程</text>
</g>
<g class="t">
<g aria-label="模具运动位移 / mm">
<text x="543.06" y="2360.6" font-size="60">模具运动位移</text>
<text x="903.06" y="2360.6" font-size="60.2" xml:space="preserve"> / mm</text>
</g>
<text x="442.1" y="2448" font-size="60.2" xml:space="preserve">(b)</text>
<g aria-label="接触面积与模具运动位移">
<text x="544.5" y="2448" font-size="59.7">接触面积与模具运动位移</text>
</g>
<g transform="translate(140.4,1931.1) rotate(-90)"><g aria-label="接触面积">
<text x="0" y="1" font-size="60">接触面积</text>
</g><text x="240" y="0" font-size="60.2" xml:space="preserve"> / </text><text x="285.73" y="0" font-size="60.2">mm</text><text x="379.9" y="-25" font-size="38">2</text></g>
</g>
</svg>
</body></html>
